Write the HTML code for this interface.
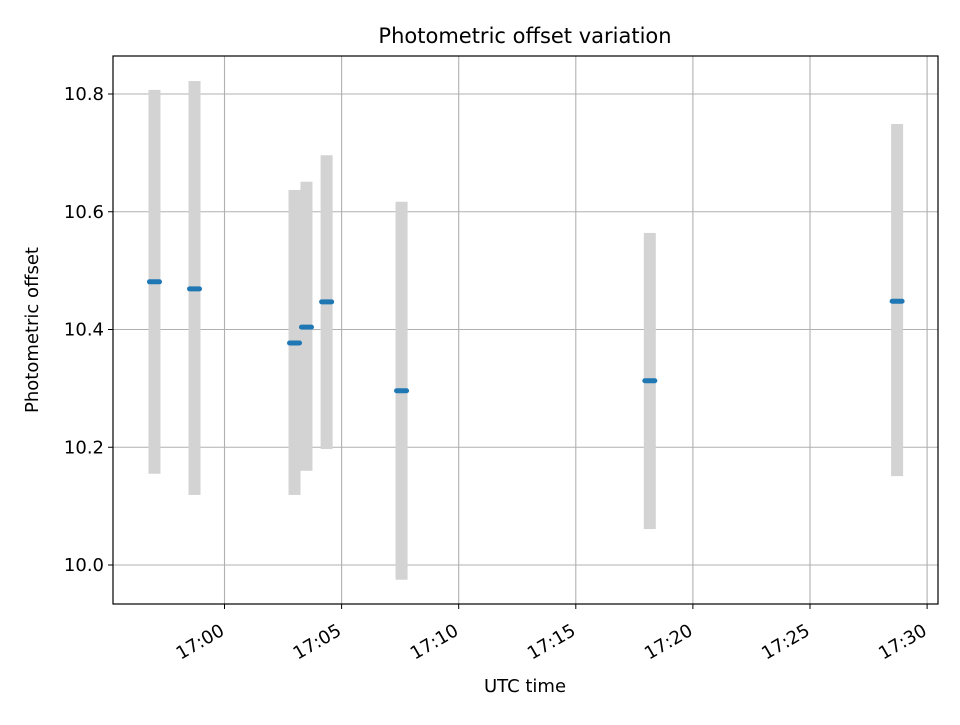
<!DOCTYPE html>
<html><head><meta charset="utf-8"><style>
body{margin:0;background:#fff}
svg text{font-family:"DejaVu Sans","Liberation Sans",sans-serif;fill:#000}
</style></head><body>
<svg width="960" height="720" xmlns="http://www.w3.org/2000/svg">
<rect width="960" height="720" fill="#fff"/>
<g id="grid"></g><g id="bars"></g><g id="pts"></g><g id="axes"></g>
<text x="525" y="43" font-size="21" text-anchor="middle">Photometric offset variation</text>
<text x="525" y="692" font-size="18" text-anchor="middle">UTC time</text>
<text transform="translate(38,330) rotate(-90)" font-size="18" text-anchor="middle">Photometric offset</text>
</svg>
<script>
// minutes after 17:00
const times=[-2.99,-1.28,2.99,3.5,4.36,7.56,18.16,28.72];
const values=[10.481,10.469,10.377,10.404,10.447,10.296,10.313,10.448];
const upper=[10.807,10.822,10.637,10.651,10.696,10.617,10.564,10.749];
const lower=[10.155,10.119,10.119,10.160,10.197,9.975,10.061,10.151];
const xTicks=[0,5,10,15,20,25,30];
const xTickLabels=["17:00","17:05","17:10","17:15","17:20","17:25","17:30"];
const yTicks=[10.0,10.2,10.4,10.6,10.8];
const yTickLabels=["10.0","10.2","10.4","10.6","10.8"];
const L=113,R=938,T=56,B=604;
const X=m=>224.5+m*23.42;
const Y=v=>565-(v-10)*588.75;
const NS="http://www.w3.org/2000/svg";
function mk(p,tag,a){const e=document.createElementNS(NS,tag);for(const k in a)e.setAttribute(k,a[k]);document.getElementById(p).appendChild(e);return e;}
xTicks.forEach((t,i)=>{const x=X(t);
 const g=mk('grid','line',{x1:x,x2:x,y1:T,y2:B,stroke:'#b0b0b0','stroke-width':1.1});
 
 
 const tk=mk('axes','line',{x1:x,x2:x,y1:B,y2:B+5,stroke:'#000','stroke-width':1});
 
 
 const tx=mk('axes','text',{transform:`translate(${x+1},${B+30}) rotate(-30)`,'font-size':18,'text-anchor':'end'});
 tx.textContent=xTickLabels[i];
 
 
});
yTicks.forEach((t,i)=>{const y=Y(t);
 const g=mk('grid','line',{x1:L,x2:R,y1:y,y2:y,stroke:'#b0b0b0','stroke-width':1.1});
 
 
 const tk=mk('axes','line',{x1:L-5,x2:L,y1:y,y2:y,stroke:'#000','stroke-width':1});
 
 
 const tx=mk('axes','text',{x:L-9,y:y+6,'font-size':18,'text-anchor':'end'});
 tx.textContent=yTickLabels[i];
 
 
});
const fr=mk('axes','rect',{x:L,y:T,width:R-L,height:B-T,fill:'none',stroke:'#000','stroke-width':1.2});


times.forEach((t,i)=>{const x=X(t);
 const b=mk('bars','rect',{x:x-6,y:Y(upper[i]),width:12,height:Y(lower[i])-Y(upper[i]),fill:'#d3d3d3'});
 
 
 const p=mk('pts','line',{x1:x-5,x2:x+5,y1:Y(values[i]),y2:Y(values[i]),stroke:'#1f77b4','stroke-width':5,'stroke-linecap':'round'});
 
 
});
</script>
</body></html>
